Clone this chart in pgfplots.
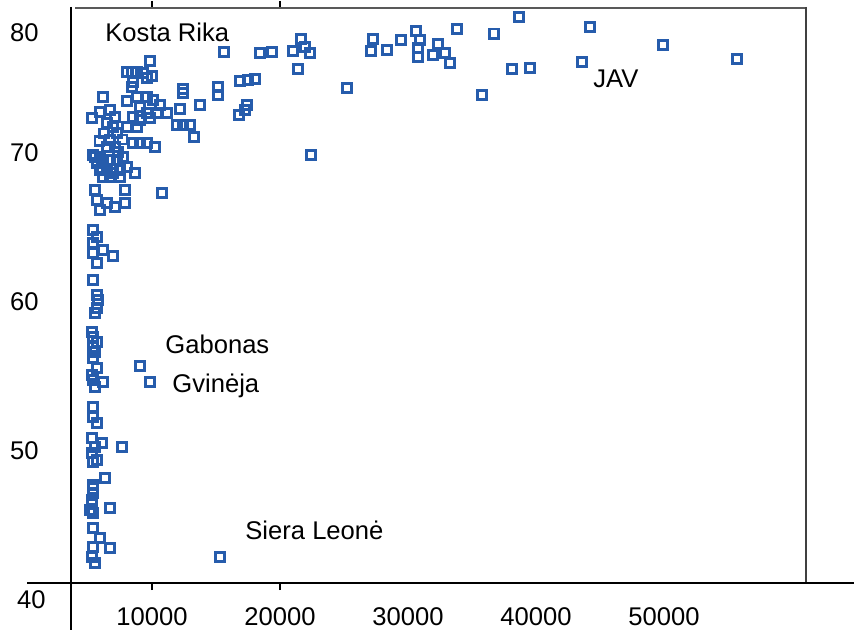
\documentclass[border=0pt]{standalone}
\usepackage{fontspec}
\setmainfont{Liberation Sans}
\usepackage{pgfplots}
\pgfplotsset{compat=1.18}
\definecolor{mk}{RGB}{38,92,172}
\pgfplotstableread{
x y
15625 76.78
18438 76.71
19375 76.78
21016 76.85
21641 77.65
21953 77.11
22344 76.71
21406 75.64
18047 74.97
17500 74.90
16875 74.83
17422 73.22
17266 72.89
16797 72.55
25234 74.36
22422 69.87
27266 77.65
27109 76.85
28359 76.91
29453 77.58
30625 78.19
30938 77.58
30781 77.05
30781 76.44
32344 77.32
31953 76.58
32891 76.71
33281 76.04
33828 78.32
35781 73.89
36719 78.00
38672 79.13
38125 75.64
39531 75.70
43594 76.11
44219 78.46
49922 77.25
55703 76.31
9844 76.17
8047 75.44
8438 75.44
8828 75.44
9297 75.37
10000 75.17
9609 75.03
8516 74.77
8438 74.43
12422 74.30
12422 74.03
15156 74.43
15156 73.89
13750 73.22
12188 72.95
11953 71.88
12422 71.88
12969 71.88
13281 71.07
8047 73.49
8828 73.76
9609 73.76
10078 73.56
10625 73.22
11172 72.68
10391 72.68
9609 72.68
9063 73.09
8516 72.42
9063 72.21
8828 71.74
8047 71.74
9844 72.35
6172 73.76
5313 72.35
5938 72.75
6719 72.89
7109 72.42
6484 72.01
6953 71.74
7266 71.34
6719 70.87
7109 70.40
6484 70.40
7344 70.07
5938 69.73
5547 69.73
5703 69.33
6172 69.53
6719 69.53
7266 69.53
7734 69.73
5938 68.86
6484 68.86
6953 68.66
7500 68.86
8047 69.06
8672 68.66
6172 68.39
6719 68.39
7500 68.39
8516 70.67
9063 70.67
9609 70.67
10234 70.40
5391 69.87
6094 68.99
6250 71.30
5900 70.80
7700 70.90
7891 67.52
10781 67.32
5547 67.52
5703 66.85
5938 66.17
6484 66.64
7109 66.38
7891 66.64
5391 64.83
5703 64.36
5391 63.96
6172 63.49
5391 63.29
6953 63.09
5703 62.62
5391 61.48
5703 60.47
5781 60.13
5703 59.60
5547 59.26
5313 57.99
5391 57.65
5703 57.32
5391 56.98
5547 56.64
5391 56.24
5703 55.57
5313 55.10
5391 54.77
6172 54.63
5547 54.30
9063 55.70
9844 54.63
5391 52.95
5391 52.28
5703 51.88
5313 50.87
5547 50.27
5313 49.87
5703 49.40
6094 50.54
7656 50.27
5391 49.26
6328 48.19
5391 47.72
5400 47.50
5391 47.18
5313 46.71
5313 46.40
5156 46.04
5391 45.84
6719 46.17
5391 44.83
5938 44.16
5391 43.56
5313 42.89
6719 43.49
5547 42.48
15313 42.89
}\gdpdata
\begin{document}
\begin{tikzpicture}[font=\fontsize{12.8}{15}\selectfont]
\useasboundingbox (0,0) rectangle (427pt,315pt);
\begin{axis}[
  at={(35.5pt,23.5pt)}, anchor=south west,
  scale only axis, width=367.5pt, height=287.5pt,
  xmin=3672, xmax=61094, ymin=41.141, ymax=79.732,
  axis line style={draw=none},
  clip=false,
  xtick={10000,20000,30000,40000,50000},
  xticklabels={10000,20000,30000,40000,50000},
  ytick={50,60,70,78.05},
  yticklabels={50,60,70,80},
  tick style={draw=none},
  major tick length=3.5pt,
  tick align=outside,
  extra x ticks={10000,20000},
  extra x tick labels={},
  extra x tick style={tick style={draw=black,line width=0.6pt}},
  tick label style={font=\fontsize{12.8}{15}\selectfont, inner sep=0pt},
  xticklabel style={anchor=north, yshift=-8.5pt},
  yticklabel style={anchor=east, xshift=-12.5pt},
]
\addplot[only marks, mark=square, mark size=2.3pt,
  mark options={draw=mk, line width=1.2pt, fill=none, rounded corners=0.5pt}] table {\gdpdata};
\node[anchor=west, inner sep=0pt] at (axis cs:6328,78.12) {Kosta Rika};
\node[anchor=west, inner sep=0pt] at (axis cs:44453,74.97) {JAV};
\node[anchor=west, inner sep=0pt] at (axis cs:11016,57.18) {Gabonas};
\node[anchor=west, inner sep=0pt] at (axis cs:11563,54.36) {Gvinėja};
\node[anchor=west, inner sep=0pt] at (axis cs:17266,44.70) {Siera Leonė};
\end{axis}
\draw[black, line width=0.65pt] (35.5pt,311.5pt) -- (35.5pt,0pt);
\draw[black!65, line width=1pt] (37.5pt,311pt) -- (403pt,311pt);
\draw[black!75, line width=1.3pt] (403pt,311.5pt) -- (403pt,23pt);
\draw[black, line width=0.65pt] (13.5pt,23.5pt) -- (427pt,23.5pt);
\node[anchor=east, inner sep=0pt] at (23pt,15pt) {40};
\end{tikzpicture}
\end{document}
